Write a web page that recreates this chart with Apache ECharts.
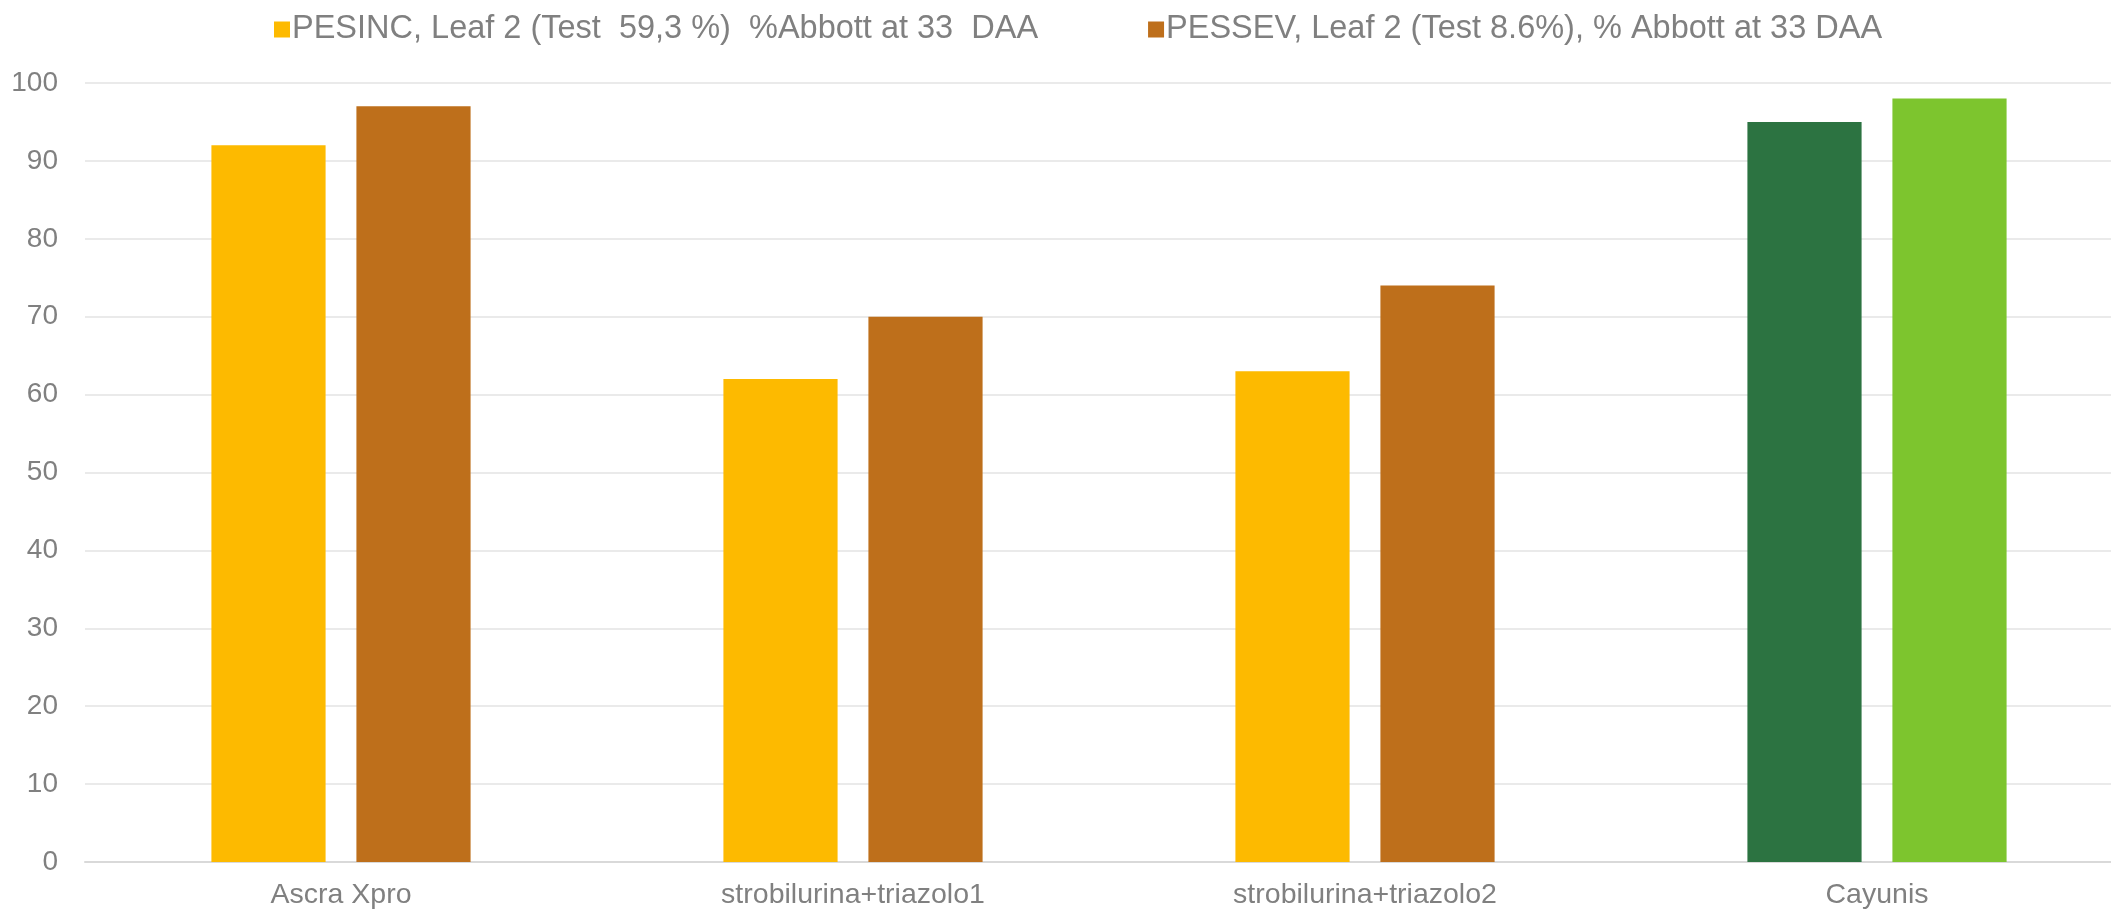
<!DOCTYPE html>
<html>
<head>
<meta charset="utf-8">
<script src="https://cdn.jsdelivr.net/npm/echarts@6/dist/echarts.min.js"></script>
<style>
html, body { margin: 0; padding: 0; background: #fff; overflow: hidden; }
/* plot area runs a little past the right edge of the picture */
#chart { width: 2133px; height: 913px; }
</style>
</head>
<body>
<div id="chart"></div>
<script>
var categories = ['Ascra Xpro', 'strobilurina+triazolo1', 'strobilurina+triazolo2', 'Cayunis'];
var pesincValues = [92, 62, 63, 95];
var pessevValues = [97, 70, 74, 98];
var seriesNames = ['PESINC, Leaf 2 (Test  59,3 %)  %Abbott at 33  DAA', 'PESSEV, Leaf 2 (Test 8.6%), % Abbott at 33 DAA'];

var textGrey = '#808080';
var pesincColor = '#fdba00';
var pessevColor = '#be6f1b';
// last category is drawn in greens
var cayunisColors = ['#2c7341', '#7dc52e'];

function withCayunis(values, color) {
	return values.map(function (v, i) {
		if (categories[i] === 'Cayunis') {
			return { value: v, itemStyle: { color: color } };
		}
		return v;
	});
}

var chart = echarts.init(document.getElementById('chart'), null, { renderer: 'canvas' });
chart.setOption({
	animation: false,
	textStyle: { fontFamily: 'Liberation Sans, Arial, sans-serif' },
	legend: {
		top: 8,
		left: 269,
		itemWidth: 16,
		itemHeight: 16,
		itemGap: 110,
		icon: 'rect',
		textStyle: { color: textGrey, fontSize: 32.5, padding: [0, 0, 0, -3] },
		data: seriesNames
	},
	grid: { left: 85, right: 0, top: 83, bottom: 51, containLabel: false },
	xAxis: {
		type: 'category',
		data: categories,
		axisTick: { show: false },
		axisLine: { lineStyle: { color: '#d9d9d9', width: 2 } },
		axisLabel: { color: textGrey, fontSize: 28.5, margin: 19 }
	},
	yAxis: {
		type: 'value',
		min: 0,
		max: 100,
		interval: 10,
		axisLine: { show: false },
		axisTick: { show: false },
		axisLabel: { color: textGrey, fontSize: 28, margin: 27 },
		splitLine: { lineStyle: { color: '#e3e3e3', width: 1.5 } }
	},
	series: [
		{
			name: seriesNames[0],
			type: 'bar',
			barWidth: '22.3%',
			barGap: '27%',
			itemStyle: { color: pesincColor },
			data: withCayunis(pesincValues, cayunisColors[0])
		},
		{
			name: seriesNames[1],
			type: 'bar',
			barWidth: '22.3%',
			barGap: '27%',
			itemStyle: { color: pessevColor },
			data: withCayunis(pessevValues, cayunisColors[1])
		}
	]
});
</script>
</body>
</html>
